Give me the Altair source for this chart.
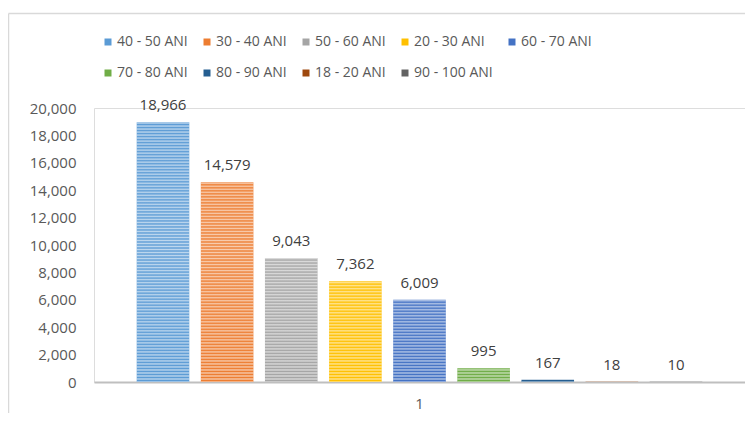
import altair as alt
import pandas as pd

series = ["40 - 50 ANI", "30 - 40 ANI", "50 - 60 ANI", "20 - 30 ANI", "60 - 70 ANI",
          "70 - 80 ANI", "80 - 90 ANI", "18 - 20 ANI", "90 - 100 ANI"]
values = [18966, 14579, 9043, 7362, 6009, 995, 167, 18, 10]
colors = ["#5B9BD5", "#ED7D31", "#A5A5A5", "#FFC000", "#4472C4",
          "#70AD47", "#255E91", "#9E480E", "#636363"]
category = ["1"] * len(series)
y_ticks = list(range(0, 20001, 2000))

df = pd.DataFrame({"g": category, "s": series, "v": values})

FONT = "Open Sans"
W, H = 651, 274
YMAX = 20000

x_enc = alt.X("g:N", title=None,
              scale=alt.Scale(paddingInner=0, paddingOuter=0.064),
              axis=alt.Axis(labelAngle=0, ticks=False, tickSize=0, labelPadding=14,
                            domainColor="#BFBFBF", domainWidth=2,
                            labelFont=FONT, labelFontSize=15, labelColor="#595959"))
xo_enc = alt.XOffset("s:N", scale=alt.Scale(domain=series, paddingInner=0.18, paddingOuter=0.09))
y_enc = alt.Y("v:Q", title=None,
              scale=alt.Scale(domain=[0, YMAX], nice=False),
              axis=alt.Axis(values=y_ticks, format=",d", domain=False, ticks=False, grid=False,
                            labelPadding=18, labelFont=FONT, labelFontSize=15,
                            labelColor="#595959"))

base = alt.Chart(df)

bars = base.mark_bar().encode(
    x=x_enc, xOffset=xo_enc, y=y_enc,
    color=alt.Color("s:N", scale=alt.Scale(domain=series, range=colors),
                    legend=alt.Legend(title=None, orient="none", legendX=7, legendY=-73,
                                      direction="horizontal", columns=5,
                                      symbolType="square", symbolSize=49, symbolStrokeWidth=0,
                                      labelFont=FONT, labelFontSize=14, labelColor="#595959",
                                      labelOffset=2, columnPadding=12, rowPadding=17,
                                      padding=0)),
)

# horizontal stripe texture: fixed ~3px pitch, soft triangular profile
pitch = 3.0
n_stripes = int(H / pitch)
stops = []
for j in range(2 * n_stripes + 1):
    alpha = 0.6 if j % 2 == 0 else 0.0
    stops.append(alt.GradientStop(offset=round(j / (2 * n_stripes), 5),
                                  color=f"rgba(255,255,255,{alpha})"))

overlays = []
for s, v in zip(series, values):
    frac = v / YMAX
    grad = alt.LinearGradient(gradient="linear", stops=stops,
                              x1=0, x2=0, y1=round(1 - 1 / frac, 5), y2=1)
    overlays.append(
        base.transform_filter(alt.datum.s == s).mark_bar(fill=grad).encode(
            x=x_enc, xOffset=xo_enc, y=y_enc)
    )

labels = base.mark_text(baseline="middle", dy=-17, font=FONT, fontSize=15,
                        color="#404040").encode(
    x=x_enc, xOffset=xo_enc, y=y_enc, text=alt.Text("v:Q", format=",d"))

frame_df = pd.DataFrame({"k": [0]})
left_border = alt.Chart(frame_df).mark_rule(color="#D9D9D9", strokeWidth=1.5).encode(
    x=alt.value(-85.5), y=alt.value(-94.5), y2=alt.value(310))
top_border = alt.Chart(frame_df).mark_rule(color="#D9D9D9", strokeWidth=1.5).encode(
    x=alt.value(-85.5), x2=alt.value(W + 10), y=alt.value(-94.5))

chart = alt.layer(bars, *overlays, labels, left_border, top_border).properties(
    width=W, height=H,
    autosize=alt.AutoSizeParams(type="none"),
    padding={"left": 86, "top": 100, "right": 0, "bottom": 31},
).configure_view(stroke=None).configure(background="white")

chart.save("out.html", embed_options={"renderer": "svg", "actions": False})
